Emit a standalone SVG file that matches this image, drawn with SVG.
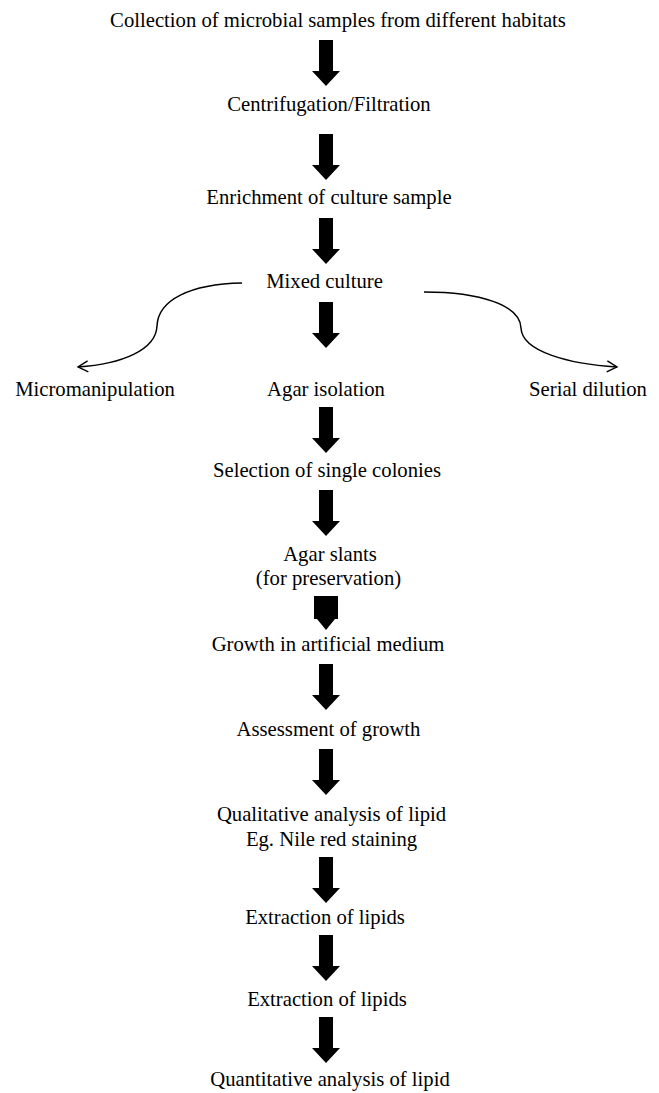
<svg xmlns="http://www.w3.org/2000/svg" xmlns:xlink="http://www.w3.org/1999/xlink" width="659" height="1093" viewBox="0 0 659 1093">
<style>
text{font-family:"Liberation Serif","Times New Roman",serif;font-size:20.7px;fill:#000;text-anchor:middle}
.curve{fill:none;stroke:#000;stroke-width:1.5}
.blk{fill:#000}
</style>
<defs>
<path id="barrow" d="M-7,0 H7 V31 H14 L0,46 L-14,31 H-7 Z"/>
<marker id="open" markerUnits="userSpaceOnUse" viewBox="0 0 12 12" refX="11" refY="6" markerWidth="12" markerHeight="12" orient="auto" overflow="visible">
<path d="M1,0.5 L11,6 L1,11.5" fill="none" stroke="#000" stroke-width="1.4"/>
</marker>
</defs>
<rect width="659" height="1093" fill="#fff"/>
<g id="nodes">
<g id="n1"><text x="338" y="27">Collection of microbial samples from different habitats</text></g>
<g id="n2"><text x="329" y="111">Centrifugation/Filtration</text></g>
<g id="n3"><text x="329" y="204">Enrichment of culture sample</text></g>
<g id="n4"><text x="324.5" y="288">Mixed culture</text></g>
<g id="n5"><text x="95" y="396">Micromanipulation</text></g>
<g id="n6"><text x="326" y="396">Agar isolation</text></g>
<g id="n7"><text x="588" y="396">Serial dilution</text></g>
<g id="n8"><text x="327" y="477">Selection of single colonies</text></g>
<g id="n9"><text x="330" y="561">Agar slants</text><text x="328.5" y="585">(for preservation)</text></g>
<g id="n10"><text x="328" y="651">Growth in artificial medium</text></g>
<g id="n11"><text x="328.5" y="736">Assessment of growth</text></g>
<g id="n12"><text x="331.5" y="821">Qualitative analysis of lipid</text><text x="331.5" y="846">Eg. Nile red staining</text></g>
<g id="n13"><text x="325" y="924">Extraction of lipids</text></g>
<g id="n14"><text x="327" y="1006">Extraction of lipids</text></g>
<g id="n15"><text x="330" y="1086">Quantitative analysis of lipid</text></g>
</g>
<g id="connectors">
<use xlink:href="#barrow" href="#barrow" class="blk" x="326" y="40"/>
<use xlink:href="#barrow" href="#barrow" class="blk" x="326" y="134"/>
<use xlink:href="#barrow" href="#barrow" class="blk" x="326" y="218"/>
<use xlink:href="#barrow" href="#barrow" class="blk" x="326" y="302"/>
<use xlink:href="#barrow" href="#barrow" class="blk" x="326" y="407"/>
<use xlink:href="#barrow" href="#barrow" class="blk" x="326" y="490"/>
<path class="blk" d="M314,596 H338 V619 H335 L326,630 L317,619 H314 Z"/>
<use xlink:href="#barrow" href="#barrow" class="blk" x="326" y="664"/>
<use xlink:href="#barrow" href="#barrow" class="blk" x="326" y="749"/>
<use xlink:href="#barrow" href="#barrow" class="blk" x="326" y="857"/>
<use xlink:href="#barrow" href="#barrow" class="blk" x="326" y="935"/>
<use xlink:href="#barrow" href="#barrow" class="blk" x="326" y="1017"/>
<path class="curve" marker-end="url(#open)" d="M242,283 C190,284 158,300 157,326 C156,350 122,364 78,367"/>
<path class="curve" marker-end="url(#open)" d="M424,292 C480,292 520,305 521,328 C522,352 570,364 617,367"/>
</g>
</svg>
